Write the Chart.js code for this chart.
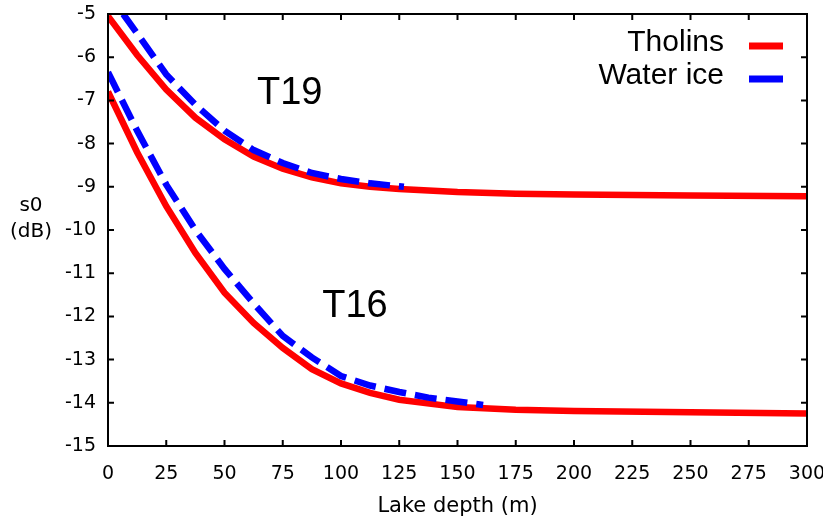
<!DOCTYPE html>
<html>
<head>
<meta charset="utf-8">
<script src="https://cdn.jsdelivr.net/npm/chart.js@4.4.1/dist/chart.umd.min.js"></script>
<style>
  html, body { margin: 0; padding: 0; background: #fff; }
  #wrap { width: 823px; height: 518px; }
</style>
</head>
<body>
<div id="wrap"><canvas id="chart"></canvas></div>
<script>
// Lake depth (m) for each curve
const tholinsDepth = [0, 12.5, 25, 37.5, 50, 62.5, 75, 87.5, 100, 112.5, 125, 150, 175, 200, 250, 300];
const tholinsT19 = [-5.05, -5.95, -6.75, -7.4, -7.9, -8.3, -8.58, -8.78, -8.92, -9.0, -9.05, -9.12, -9.16, -9.18, -9.2, -9.22];
const tholinsT16 = [-6.8, -8.2, -9.45, -10.53, -11.45, -12.15, -12.73, -13.22, -13.55, -13.77, -13.93, -14.1, -14.16, -14.19, -14.22, -14.25];

const iceT19Depth = [6.5, 12.5, 25, 37.5, 50, 62.5, 75, 87.5, 100, 112.5, 127];
const iceT19 = [-5.0, -5.45, -6.4, -7.1, -7.7, -8.15, -8.45, -8.68, -8.82, -8.92, -9.0];
const iceT16Depth = [0, 12.5, 25, 37.5, 50, 62.5, 75, 87.5, 100, 112.5, 125, 137.5, 150, 161];
const iceT16 = [-6.35, -7.7, -8.95, -10.0, -10.9, -11.7, -12.45, -12.95, -13.38, -13.6, -13.75, -13.88, -13.97, -14.05];

// flyby labels placed in data coordinates
const flybyNames = ["T19", "T16"];
const flybyDepth = [78, 106];
const flybyDb = [-6.84, -11.76];

const legendNames = ["Tholins", "Water ice"];
const RED = "#ff0000";
const BLUE = "#0000ff";

const pts = (xs, ys) => xs.map((x, i) => ({ x, y: ys[i] }));

const iceStyle = { borderColor: BLUE, borderWidth: 6.5, borderDash: [22, 9], pointRadius: 0, tension: 0, fill: false };
const tholinStyle = { borderColor: RED, borderWidth: 6.5, pointRadius: 0, tension: 0, fill: false };

// inward ticks on all four sides, frame, labels and legend
const frame = {
  id: 'frame',
  afterDatasetsDraw(chart) {
    const { ctx, chartArea: a, scales: { x, y } } = chart;
    ctx.save();
    ctx.strokeStyle = '#000';
    ctx.lineWidth = 2;
    ctx.beginPath();
    x.ticks.forEach(t => {
      const px = x.getPixelForValue(t.value);
      ctx.moveTo(px, a.bottom); ctx.lineTo(px, a.bottom - 6);
      ctx.moveTo(px, a.top); ctx.lineTo(px, a.top + 6);
    });
    y.ticks.forEach(t => {
      const py = y.getPixelForValue(t.value);
      ctx.moveTo(a.left, py); ctx.lineTo(a.left + 6, py);
      ctx.moveTo(a.right, py); ctx.lineTo(a.right - 6, py);
    });
    ctx.stroke();
    ctx.strokeRect(a.left, a.top, a.right - a.left, a.bottom - a.top);

    ctx.fillStyle = '#000';
    ctx.textAlign = 'center';
    ctx.textBaseline = 'middle';
    ctx.font = '38px "Liberation Sans", Arial, sans-serif';
    flybyNames.forEach((n, i) => {
      ctx.fillText(n, x.getPixelForValue(flybyDepth[i]), y.getPixelForValue(flybyDb[i]));
    });

    // legend: text on the left, line sample on the right
    ctx.font = '30px "Liberation Sans", Arial, sans-serif';
    ctx.textAlign = 'right';
    const colors = [RED, BLUE];
    legendNames.forEach((n, i) => {
      const ty = a.top + 29 + i * 33;
      ctx.fillStyle = '#000';
      ctx.fillText(n, a.right - 83, ty);
      ctx.strokeStyle = colors[i];
      ctx.lineWidth = 7;
      ctx.beginPath();
      ctx.moveTo(a.right - 58, ty + 3);
      ctx.lineTo(a.right - 24, ty + 3);
      ctx.stroke();
    });

    // y axis title, horizontal
    ctx.fillStyle = '#000';
    ctx.textAlign = 'center';
    ctx.font = '20px "DejaVu Sans", sans-serif';
    ctx.fillText('s0', 31, 206);
    ctx.fillText('(dB)', 31, 232);
    ctx.restore();
  }
};

new Chart(document.getElementById('chart'), {
  type: 'line',
  data: {
    datasets: [
      { label: 'Water ice T19', data: pts(iceT19Depth, iceT19), ...iceStyle },
      { label: 'Water ice T16', data: pts(iceT16Depth, iceT16), ...iceStyle },
      { label: 'Tholins T19', data: pts(tholinsDepth, tholinsT19), ...tholinStyle },
      { label: 'Tholins T16', data: pts(tholinsDepth, tholinsT16), ...tholinStyle }
    ]
  },
  options: {
    responsive: true,
    maintainAspectRatio: false,
    animation: false,
    layout: { padding: { top: 14, right: 16, left: 0, bottom: 0 } },
    plugins: { legend: { display: false }, tooltip: { enabled: false } },
    scales: {
      x: {
        type: 'linear',
        min: 0,
        max: 300,
        grid: { display: false },
        border: { display: false },
        ticks: { stepSize: 25, color: '#000', padding: 9, maxRotation: 0, font: { family: 'DejaVu Sans', size: 19 } },
        title: { display: true, text: 'Lake depth (m)', color: '#000', padding: 0, font: { family: 'DejaVu Sans', size: 21, lineHeight: 1.1 } },
        afterFit: s => { s.height = 72; s.paddingLeft = 0; s.paddingRight = 0; }
      },
      y: {
        min: -15,
        max: -5,
        grid: { display: false },
        border: { display: false },
        ticks: { stepSize: 1, color: '#000', padding: 4, font: { family: 'DejaVu Sans', size: 19 } },
        afterFit: s => { s.width = 108; s.paddingTop = 0; s.paddingBottom = 0; }
      }
    }
  },
  plugins: [frame]
});
</script>
</body>
</html>
